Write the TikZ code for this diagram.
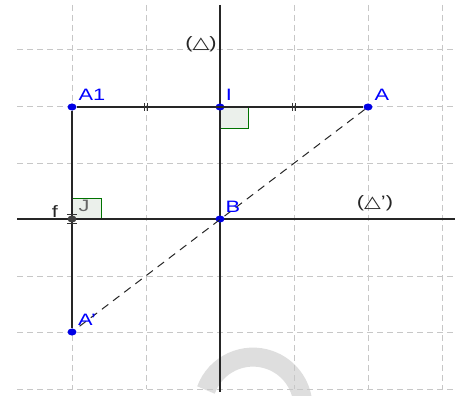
\documentclass[tikz,border=0pt]{standalone}
\usepackage{fontspec}
\usepackage{graphicx}
\usetikzlibrary{shapes.geometric}
\setmainfont{Liberation Sans}
\newfontfamily\symfont{DejaVu Sans}
\newcommand\widetxt[1]{\scalebox{1.32}[1]{#1}}
\begin{document}
\begin{tikzpicture}[x=1pt,y=-1pt,
  gridline/.style={draw=black!22,line width=1pt,dash pattern=on 6pt off 4pt},
  mainline/.style={draw=black!85,line width=1.5pt},
  pt/.style={ellipse,fill=blue!90!black,inner sep=0pt,minimum width=9pt,minimum height=7pt},
  lbl/.style={font=\fontsize{16.5}{18}\selectfont,text=blue,inner sep=0pt},
  blk/.style={font=\fontsize{16.5}{18}\selectfont,text=black!85,inner sep=0pt},
  rangle/.style={draw=green!45!black,fill=green!25!black!8,line width=1pt},
  tick/.style={draw=black!80,line width=1.1pt}]
\useasboundingbox (0,0) rectangle (461,396);
\fill[white] (0,0) rectangle (461,396);
% watermark
\draw[black!13,line width=19pt] (206,390) arc[start angle=200,end angle=355,radius=50];
% grid
\foreach \x in {72,146,294,368,442} \draw[gridline] (\x,5) -- (\x,389);
\foreach \y in {50,107,163,276,332,389} \draw[gridline] (17,\y) -- (455,\y);
% coordinates
\coordinate (dTop) at (220,5);
\coordinate (dBot) at (220,392);
\coordinate (pL) at (17,219);
\coordinate (pR) at (455,219);
% right-angle marks
\draw[rangle] (220,107) rectangle (248,128);
\draw[rangle] (72,198) rectangle (101,219);
% lines
\draw[mainline] (dTop) -- (dBot);
\draw[mainline] (pL) -- (pR);
\node[pt] (A1) at (72,107) {};
\node[pt] (I) at (220,107) {};
\node[pt] (A) at (368,107) {};
\node[pt] (B) at (220,219) {};
\node[pt] (Ap) at (72,332) {};
\draw[mainline] (A1) -- (A);
\draw[mainline] (A1) -- (Ap);
\draw[black!85,line width=1pt,dash pattern=on 8pt off 6pt] (A) -- (Ap);
% f point
\node[ellipse,fill=black!75,inner sep=0pt,minimum width=9pt,minimum height=7pt] (f) at (72,219) {};
\draw[black!80,line width=1pt] (67,214.5) -- (77,214.5) (67,223.5) -- (77,223.5);
% ticks
\draw[tick] (144.5,103) -- (144.5,111) (147.5,103) -- (147.5,111);
\draw[tick] (292.5,103) -- (292.5,111) (295.5,103) -- (295.5,111);
% labels
\node[lbl] at (92,95) {\widetxt{A1}};
\node[lbl] at (229,95) {\widetxt{I}};
\node[lbl] at (382,95) {\widetxt{A}};
\node[lbl] at (233,207) {\widetxt{B}};
\node[lbl] at (87,320) {\widetxt{A'}};
\node[lbl,text=black!60] at (84,206) {\widetxt{J}};
\node[blk] at (55,212) {\widetxt{f}};
\node[blk] at (201,44) {\widetxt{({\symfont △})}};
\node[blk] at (375,203) {\widetxt{({\symfont △}')}};
\end{tikzpicture}
\end{document}
